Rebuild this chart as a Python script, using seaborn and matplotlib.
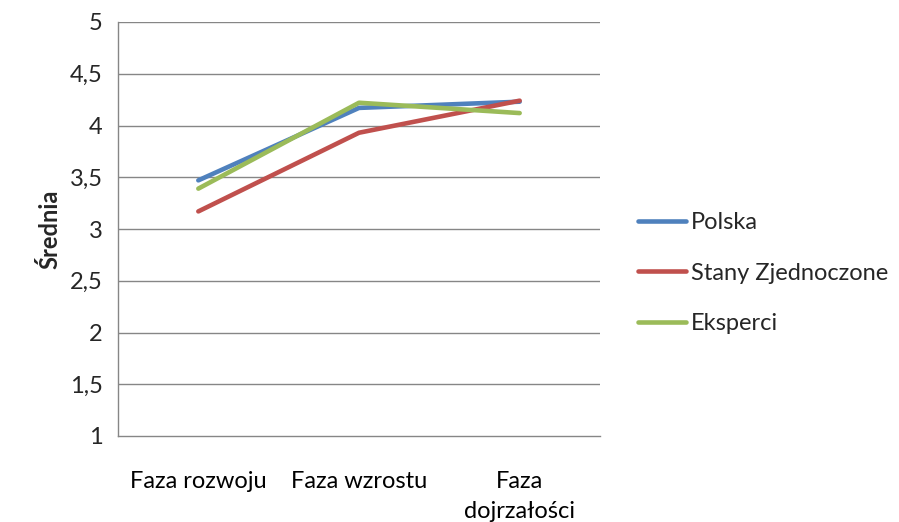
import matplotlib
matplotlib.use("Agg")
import matplotlib.pyplot as plt
import seaborn as sns
import pandas as pd

# Average scores per company life-cycle phase
phases = ["Faza rozwoju", "Faza wzrostu", "Faza\ndojrzałości"]
polska = [3.47, 4.17, 4.23]
stany = [3.17, 3.93, 4.24]
eksperci = [3.39, 4.22, 4.12]
series_names = ["Polska", "Stany Zjednoczone", "Eksperci"]
colors = ["#4F81BD", "#C0504D", "#9BBB59"]
y_ticks = [1, 1.5, 2, 2.5, 3, 3.5, 4, 4.5, 5]

rows = []
for name, vals in zip(series_names, [polska, stany, eksperci]):
    for ph, v in zip(phases, vals):
        rows.append({"Faza": ph, "Średnia": v, "Grupa": name})
df = pd.DataFrame(rows)

sns.set_style("white")
plt.rcParams["font.family"] = ["Lato", "DejaVu Sans"]

fig = plt.figure(figsize=(8.99, 5.22), dpi=100)
ax = fig.add_axes([118 / 899, 1 - 436 / 522, (600 - 118) / 899, (436 - 22) / 522])

grid_c = "#868686"
fs = 17
sns.lineplot(data=df, x="Faza", y="Średnia", hue="Grupa", hue_order=series_names,
             palette=colors, linewidth=3.3, sort=False, ax=ax, legend=False,
             solid_capstyle="round", zorder=3)

ax.set_ylim(1, 5)
ax.set_xlim(-0.5, 2.5)
ax.set_yticks(y_ticks)
ax.set_yticklabels([str(int(t)) if t == int(t) else str(t).replace(".", ",") for t in y_ticks])
for t in y_ticks[1:]:
    ax.axhline(t, color=grid_c, linewidth=1.0, zorder=1)

ax.set_xticks([0, 1, 2])
ax.set_xticklabels(phases, linespacing=1.55)
ax.tick_params(axis="x", length=0, pad=25, labelsize=fs, colors="black")
# category boundary ticks on the x axis
ax.set_xticks([-0.5, 0.5, 1.5, 2.5], minor=True)
ax.tick_params(axis="x", which="minor", length=6, width=1, color=grid_c, direction="out")
ax.tick_params(axis="y", length=6, width=1, color=grid_c, direction="out", labelsize=fs, pad=5)

for s in ["top", "right"]:
    ax.spines[s].set_visible(False)
for s in ["left", "bottom"]:
    ax.spines[s].set_color(grid_c)
    ax.spines[s].set_linewidth(1.0)

ax.set_xlabel("")
ax.set_ylabel("Średnia", fontsize=fs, fontweight="bold", labelpad=6)

# legend on the right
handles = [plt.Line2D([], [], color=c, linewidth=3.3, solid_capstyle="round") for c in colors]
fig.legend(handles, series_names, loc="center left", bbox_to_anchor=(638 / 899, 1 - 273 / 522),
           frameon=False, fontsize=fs, handlelength=2.05, handletextpad=0.2, labelspacing=1.25,
           borderpad=0, borderaxespad=0)

fig.savefig("out.png", dpi=100)
